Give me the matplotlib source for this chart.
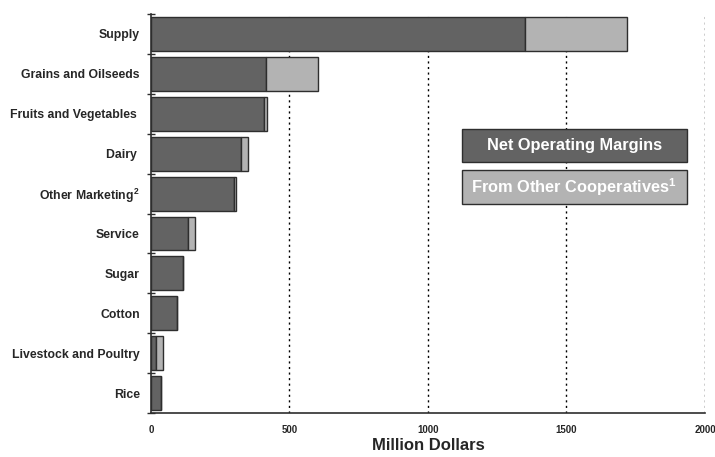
import matplotlib.pyplot as plt
from matplotlib.patches import Rectangle
import numpy as np

plt.rcParams['font.family'] = ['Liberation Sans', 'DejaVu Sans']
plt.rcParams['font.weight'] = 'bold'
plt.rcParams['mathtext.fontset'] = 'custom'
plt.rcParams['mathtext.bf'] = 'Liberation Sans:bold'
plt.rcParams['mathtext.rm'] = 'Liberation Sans:bold'

categories = ['Supply', 'Grains and Oilseeds', 'Fruits and Vegetables ', 'Dairy ',
              r'Other Marketing$^{\mathbf{2}}$', 'Service', 'Sugar', 'Cotton',
              'Livestock and Poultry', 'Rice']
net_margins = [1350, 414, 408, 326, 301, 135, 117, 96, 19, 36]
other_coops = [370, 190, 10, 24, 6, 23, 0, 0, 23, 0]
x_ticks = [0, 500, 1000, 1500, 2000]

dark = '#636363'
light = '#b3b3b3'
edge = '#2e2e2e'
text_col = '#262626'

fig = plt.figure(figsize=(7.15, 4.57), dpi=100)
ax = fig.add_axes([0.211, 0.0963, 0.775, 0.873])

y = np.arange(len(categories))
ax.barh(y, net_margins, height=0.85, color=dark, edgecolor=edge, linewidth=1)
ax.barh(y, other_coops, left=net_margins, height=0.85, color=light,
        edgecolor=edge, linewidth=1)

ax.set_ylim(len(categories) - 0.5, -0.5)
ax.set_xlim(0, 2000)

# labels at bar centres, tick marks on the category boundaries
ax.set_yticks(y)
ax.set_yticklabels(categories, fontsize=8.8, color=text_col)
ax.set_yticks(np.arange(len(categories) + 1) - 0.5, minor=True)
ax.tick_params(axis='y', which='major', length=0, pad=8)
ax.tick_params(axis='y', which='minor', length=6, direction='inout',
               width=1, color=edge)

ax.set_xticks(x_ticks)
ax.set_xticklabels([str(v) for v in x_ticks], fontsize=7, color=text_col)
ax.tick_params(axis='x', length=0, pad=9)
ax.set_xlabel('Million Dollars', fontsize=12, fontweight='bold',
              color=text_col, labelpad=2)

for v in x_ticks[1:]:
    ax.axvline(v, color='black', linestyle=(0, (1.5, 2.5)), linewidth=1, zorder=0)

for side in ['top', 'right']:
    ax.spines[side].set_visible(False)
for side in ['left', 'bottom']:
    ax.spines[side].set_color(edge)
    ax.spines[side].set_linewidth(1.2)

# legend boxes
legend_items = [('Net Operating Margins', dark, 0.629, 0.712),
                (r'From Other Cooperatives$^{\mathbf{1}}$', light, 0.524, 0.609)]
for label, color, y0, y1 in legend_items:
    ax.add_patch(Rectangle((0.561, y0), 0.406, y1 - y0, transform=ax.transAxes,
                           facecolor=color, edgecolor=edge, linewidth=1,
                           zorder=3))
    ax.text(0.764, (y0 + y1) / 2, label, transform=ax.transAxes,
            ha='center', va='center', color='white', fontsize=11.8,
            fontweight='bold', zorder=4)

fig.savefig('out.png', dpi=100)
